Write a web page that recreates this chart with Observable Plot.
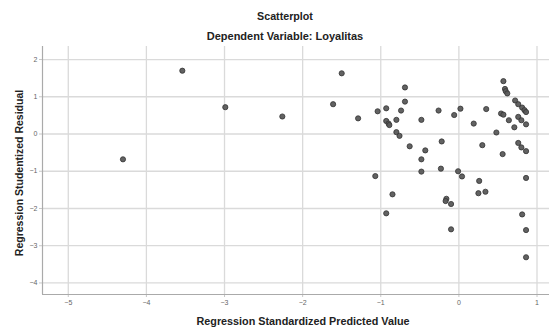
<!DOCTYPE html>
<html><head><meta charset="utf-8">
<script src="https://cdn.jsdelivr.net/npm/d3@7"></script>
<script src="https://cdn.jsdelivr.net/npm/@observablehq/plot@0.6"></script>
<style>body{margin:0;background:#fff;font-family:"Liberation Sans",Arial,sans-serif}</style>
</head><body>
<div id="chart"></div>
<script>
const predicted = [-4.30,-3.54,-2.99,-2.26,-1.50,-1.61,-1.29,-1.04,-0.93,-0.93,-0.90,-0.89,-0.80,-0.74,-0.69,-0.69,-0.80,-0.76,-0.63,-0.48,-0.43,-0.48,-0.48,-1.07,-0.85,-0.93,-0.26,-0.22,-0.23,-0.06,0.02,-0.01,0.04,-0.16,-0.17,-0.10,-0.10,0.19,0.26,0.25,0.34,0.35,0.30,0.48,0.56,0.54,0.57,0.57,0.59,0.60,0.62,0.64,0.72,0.76,0.81,0.84,0.86,0.76,0.80,0.86,0.71,0.76,0.80,0.86,0.86,0.81,0.86,0.86];
const residual = [-0.68,1.70,0.72,0.47,1.63,0.80,0.42,0.61,0.69,0.35,0.28,0.24,0.38,0.63,1.25,0.87,0.05,-0.05,-0.33,0.38,-0.44,-0.68,-1.01,-1.13,-1.62,-2.13,0.63,-0.20,-0.93,0.51,0.68,-1.00,-1.14,-1.74,-1.80,-1.88,-2.56,0.28,-1.26,-1.59,-1.55,0.67,-0.30,0.04,-0.54,0.55,0.52,1.42,1.21,1.15,1.09,0.37,0.90,0.80,0.71,0.64,0.59,0.46,0.37,0.26,0.18,-0.24,-0.36,-0.46,-1.18,-2.16,-2.58,-3.31];
const xTicks = [-5,-4,-3,-2,-1,0,1];
const yTicks = [2,1,0,-1,-2,-3,-4];
const titleText = "Scatterplot";
const subtitleText = "Dependent Variable: Loyalitas";
const xLabel = "Regression Standardized Predicted Value";
const yLabel = "Regression Studentized Residual";

const data = predicted.map((x,i)=>({x, y: residual[i]}));

const plot = Plot.plot({
  width: 549, height: 327,
  marginLeft: 42, marginRight: 0, marginTop: 46, marginBottom: 33,
  style: {fontFamily: '"Liberation Sans", Arial, sans-serif', fontSize: "7px", color: "#444", background: "#fff"},
  x: {domain: [-5.33, 1.16], ticks: xTicks, label: null},
  y: {domain: [-4.31, 2.35], ticks: yTicks, label: null},
  marks: [
    Plot.gridX(xTicks, {stroke: "#dadada", strokeOpacity: 1, strokeWidth: 1.3}),
    Plot.gridY(yTicks, {stroke: "#dadada", strokeOpacity: 1, strokeWidth: 1.3}),
    Plot.axisX(xTicks, {tickSize: 3, tickPadding: 3, stroke: "#c8c8c8", fill: "#666", fontSize: 7}),
    Plot.axisY(yTicks, {tickSize: 3, tickPadding: 2, stroke: "#c8c8c8", fill: "#666", fontSize: 7}),
    Plot.ruleX([-5.33], {stroke: "#aaa", strokeWidth: 1.2}),
    Plot.ruleY([-4.31], {stroke: "#aaa", strokeWidth: 1.2}),
    Plot.dot(data, {x: "x", y: "y", r: 2.6, fill: "#5a5a5a", stroke: "#333", strokeWidth: 0.8, fillOpacity: 0.95})
  ]
});
const svg = d3.select(plot);
const addText = (txt, x, y, size, rot) => {
  const t = svg.append("text").attr("x", x).attr("y", y).attr("text-anchor", "middle")
    .attr("dominant-baseline", "central").attr("font-size", size).attr("font-weight", "bold")
    .attr("fill", "#222").attr("font-family", '"Liberation Sans", Arial, sans-serif').text(txt);
  if (rot) t.attr("transform", `rotate(-90 ${x} ${y})`);
};
addText(titleText, 285, 16, 10.7);
addText(subtitleText, 285, 36, 11);
addText(xLabel, 303, 321, 10.8);
addText(yLabel, 19, 173, 10.5, true);
document.getElementById("chart").appendChild(plot);
</script>
</body></html>
